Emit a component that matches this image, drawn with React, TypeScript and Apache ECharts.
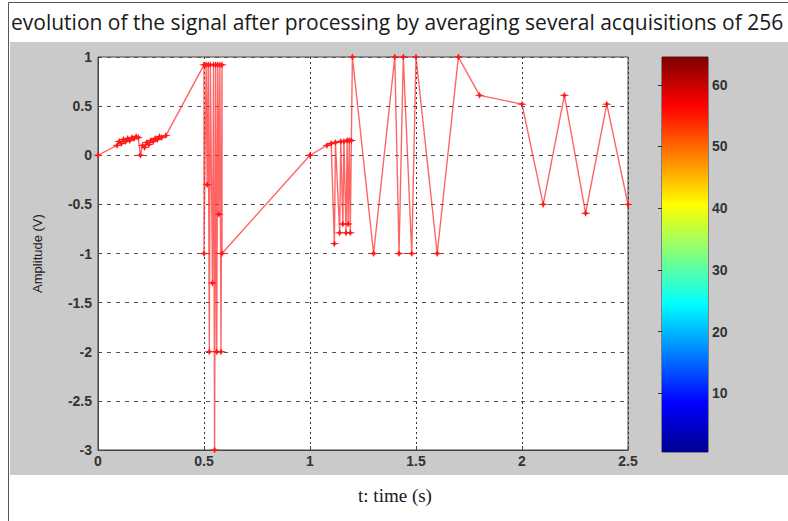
import React, { useEffect, useRef } from "react";
import * as echarts from "echarts";

// time (s) of each acquisition sample
const times: number[] = [
  0, 0.09, 0.1, 0.11, 0.12, 0.13, 0.14, 0.15, 0.16, 0.17, 0.18, 0.19, 0.2,
  0.21, 0.22, 0.23, 0.24, 0.25, 0.26, 0.27, 0.28, 0.29, 0.3, 0.32,
  0.5, 0.5, 0.51, 0.515, 0.52, 0.525, 0.53, 0.54, 0.545, 0.55, 0.555, 0.56,
  0.565, 0.57, 0.575, 0.58, 0.585, 0.585,
  1.0, 1.08, 1.1, 1.115, 1.12, 1.14, 1.145, 1.155, 1.16, 1.17, 1.175, 1.18,
  1.185, 1.19, 1.195,
  1.2, 1.3, 1.4, 1.42, 1.44, 1.48, 1.5, 1.6, 1.7, 1.8, 2.0, 2.1, 2.2, 2.3,
  2.4, 2.5,
];
// amplitude (V) of each sample
const amplitudes: number[] = [
  0, 0.1, 0.14, 0.12, 0.16, 0.14, 0.17, 0.15, 0.18, 0.17, 0.19, 0.18, 0.0,
  0.1, 0.08, 0.13, 0.11, 0.15, 0.14, 0.17, 0.16, 0.19, 0.18, 0.2,
  0.92, -1, 0.92, -0.3, 0.92, -2, 0.92, -1.3, 0.92, -3, 0.92, -2,
  0.92, -0.6, 0.92, -2, 0.92, -1,
  0, 0.1, 0.12, -0.9, 0.13, -0.79, 0.14, -0.7, 0.14, -0.79, 0.15, -0.7,
  0.15, -0.79, 0.15,
  1, -1, 1, -1, 1, -1, 1, -1, 1, 0.61, 0.52, -0.5, 0.61, -0.59,
  0.52, -0.5,
];

const xTicks: number[] = [0, 0.5, 1, 1.5, 2, 2.5];
const yTicks: number[] = [1, 0.5, 0, -0.5, -1, -1.5, -2, -2.5, -3];
const colorbarTicks: number[] = [10, 20, 30, 40, 50, 60];
const colorbarRange: number[] = [0.5, 64.5];

const TITLE =
  "evolution of the signal after processing by averaging several acquisitions of 256";

const jetStops = [
  { offset: 0, color: "#00008f" },
  { offset: 0.125, color: "#0000ff" },
  { offset: 0.375, color: "#00ffff" },
  { offset: 0.625, color: "#ffff00" },
  { offset: 0.875, color: "#ff0000" },
  { offset: 1, color: "#800000" },
];

export default function App() {
  const ref = useRef<HTMLDivElement>(null);

  useEffect(() => {
    if (!ref.current) return;
    const chart = echarts.init(ref.current, undefined, { renderer: "svg" });
    const points = times.map((t, i) => [t, amplitudes[i]]);
    const labelStyle = {
      color: "#333",
      fontFamily: "Liberation Sans, Arial, sans-serif",
      fontWeight: "bold" as const,
      fontSize: 14,
    };
    chart.setOption({
      animation: false,
      backgroundColor: "#ffffff",
      graphic: [
        {
          type: "rect",
          z: -100,
          silent: true,
          shape: { x: 10, y: 42, width: 790, height: 433 },
          style: { fill: "#cacaca" },
        },
        {
          type: "rect",
          z: -90,
          silent: true,
          shape: { x: 8.5, y: 2.5, width: 800, height: 540 },
          style: { fill: "none", stroke: "#555", lineWidth: 1 },
        },
        {
          type: "text",
          x: 11,
          y: 22,
          style: {
            text: TITLE,
            fill: "#1a1a1a",
            font: "21px 'Open Sans', 'Noto Sans', sans-serif",
            verticalAlign: "middle",
          },
        },
        {
          type: "text",
          x: 395,
          y: 495,
          style: {
            text: "t: time (s)",
            fill: "#1a1a1a",
            font: "19px 'Liberation Serif', 'DejaVu Serif', serif",
            align: "center",
            verticalAlign: "middle",
          },
        },
      ],
      grid: [
        {
          left: 98,
          top: 57,
          width: 530,
          height: 393,
          show: true,
          backgroundColor: "#ffffff",
          borderColor: "#444",
          borderWidth: 1,
        },
        {
          left: 662,
          top: 57,
          width: 46,
          height: 395,
          show: true,
          backgroundColor: "transparent",
          borderColor: "#333",
          borderWidth: 1,
        },
      ],
      xAxis: [
        {
          gridIndex: 0,
          type: "value",
          min: 0,
          max: 2.5,
          interval: 0.5,
          axisLine: { show: true, onZero: false, lineStyle: { color: "#444" } },
          axisTick: { show: true, inside: true, length: 4, lineStyle: { color: "#444" } },
          axisLabel: { ...labelStyle, margin: 4, customValues: xTicks },
          splitLine: {
            show: true,
            lineStyle: { color: "#333", type: [2, 3], width: 1 },
          },
        },
        {
          gridIndex: 1,
          type: "value",
          min: 0,
          max: 1,
          show: false,
        },
      ],
      yAxis: [
        {
          gridIndex: 0,
          type: "value",
          min: -3,
          max: 1,
          interval: 0.5,
          name: "Amplitude (V)",
          nameLocation: "middle",
          nameGap: 54,
          nameRotate: 90,
          nameTextStyle: {
            color: "#222",
            fontFamily: "Liberation Sans, Arial, sans-serif",
            fontSize: 13,
          },
          axisLine: { show: true, onZero: false, lineStyle: { color: "#444" } },
          axisTick: { show: true, inside: true, length: 4, lineStyle: { color: "#444" } },
          axisLabel: { ...labelStyle, margin: 6, customValues: yTicks },
          splitLine: {
            show: true,
            lineStyle: { color: "#555", type: [4, 5], width: 1.2 },
          },
        },
        {
          gridIndex: 1,
          type: "value",
          position: "right",
          min: colorbarRange[0],
          max: colorbarRange[1],
          axisLine: { show: false },
          axisTick: {
            show: true,
            inside: true,
            length: 4,
            customValues: colorbarTicks,
            lineStyle: { color: "#333" },
          },
          axisLabel: { ...labelStyle, margin: 4, customValues: colorbarTicks },
          splitLine: { show: false },
        },
      ],
      series: [
        {
          type: "custom",
          xAxisIndex: 1,
          yAxisIndex: 1,
          silent: true,
          z: 1,
          data: [[colorbarRange[0], colorbarRange[1]]],
          renderItem: (params: any, api: any) => {
            const top = api.coord([0, api.value(1)]);
            const bottom = api.coord([1, api.value(0)]);
            return {
              type: "rect",
              shape: {
                x: top[0],
                y: top[1],
                width: bottom[0] - top[0],
                height: bottom[1] - top[1],
              },
              style: {
                fill: new echarts.graphic.LinearGradient(0, 1, 0, 0, jetStops),
              },
            };
          },
        },
        {
          type: "line",
          xAxisIndex: 0,
          yAxisIndex: 0,
          data: points,
          symbol: "path://M0,3 L3,2.2 L4,0 L5,2.2 L8,3 L5,3.8 L4,6 L3,3.8 Z",
          symbolSize: [10, 7],
          showAllSymbol: true,
          itemStyle: { color: "#ff1a1a" },
          lineStyle: { color: "#ff3030", width: 1.4, opacity: 0.75 },
          z: 5,
        },
      ],
    });
    return () => chart.dispose();
  }, []);

  return (
    <div
      ref={ref}
      style={{ position: "fixed", left: 0, top: 0, width: 788, height: 521 }}
    />
  );
}
